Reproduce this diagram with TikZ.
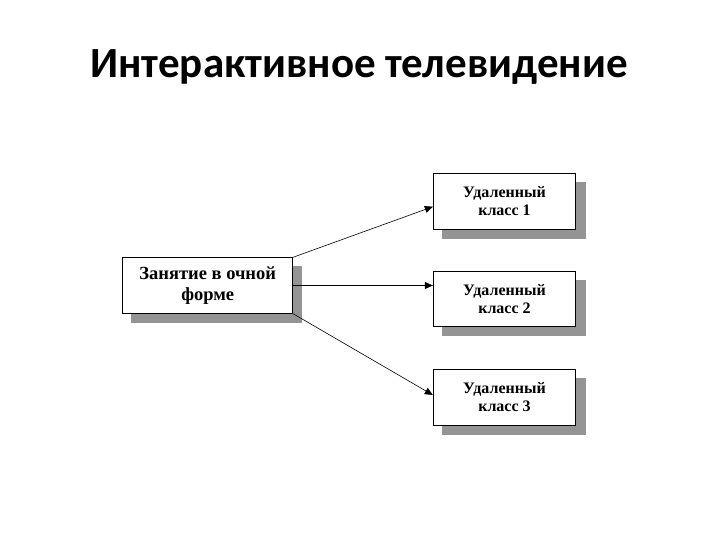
\documentclass[tikz,border=0pt]{standalone}
\usepackage{fontspec}
\setmainfont{Liberation Serif}
\newfontfamily\titlefont{Carlito}
\usetikzlibrary{arrows.meta,calc}
\begin{document}
\begin{tikzpicture}[x=1pt,y=-1pt,
  box/.style={draw=black,line width=0.9pt,fill=white,align=center,inner sep=0pt,
    font=\bfseries\fontsize{16}{17.5}\selectfont},
  conn/.style={line width=0.6pt,-{Triangle[length=8pt,width=7pt]}}]
\useasboundingbox (0,0) rectangle (720,540);
\node[font=\titlefont\bfseries\fontsize{43}{48}\selectfont,anchor=base] (title) at (359,78) {Интерактивное телевидение};
% shadows
\fill[black!42] (131,266) rectangle (302,322.7);
\fill[black!42] (442,182) rectangle (585.7,239);
\fill[black!42] (442,280) rectangle (585.7,336.4);
\fill[black!42] (442,378) rectangle (585.7,434.7);
% boxes
\node[box,minimum width=170pt,minimum height=55.6pt,font=\bfseries\fontsize{18.5}{21}\selectfont] (L) at (207.7,285.5) {Занятие в очной\\форме};
\node[box,minimum width=142.4pt,minimum height=56pt] (B1) at (504.5,201.3) {Удаленный\\класс 1};
\node[box,minimum width=142.4pt,minimum height=55.4pt] (B2) at (504.5,299) {Удаленный\\класс 2};
\node[box,minimum width=142.4pt,minimum height=55.7pt] (B3) at (504.5,397.2) {Удаленный\\класс 3};
% connectors
\draw[conn] (L.north east) -- ($(B1.west)+(0,5.4)$);
\draw[conn] (L.east) -- (L.east -| B2.west);
\draw[conn] (L.south east) -- ($(B3.west)+(0,-2.2)$);
\end{tikzpicture}
\end{document}
